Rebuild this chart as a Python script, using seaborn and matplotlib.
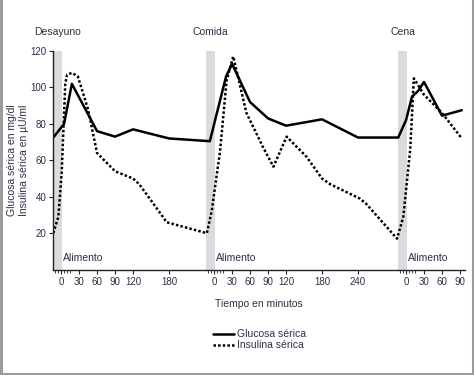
import numpy as np
import pandas as pd
import seaborn as sns
import matplotlib.pyplot as plt
from matplotlib.lines import Line2D

# meals and where each one starts on the shared time axis (minutes)
meals = ['Desayuno', 'Comida', 'Cena']
meal_start = [0, 255, 575]

# minutes shown under each meal
tick_minutes = [[0, 30, 60, 90, 120, 180],
                [0, 30, 60, 90, 120, 180, 240],
                [0, 30, 60, 90]]

# glucose (mg/dl), minutes relative to each meal
gluc_desayuno_t = [-13, 5, 18, 60, 90, 120, 180]
gluc_desayuno = [72.5, 80, 102, 76, 73, 77, 72]
gluc_comida_t = [-7, 20, 30, 60, 90, 120, 180, 240]
gluc_comida = [70.5, 106, 113, 92, 83, 79, 82.5, 72.5]
gluc_cena_t = [-13, 0, 10, 20, 30, 60, 93]
gluc_cena = [72.5, 82, 95, 98, 103, 84.5, 87.5]

# insulin (uU/ml), minutes relative to each meal
ins_desayuno_t = [-13, -4.5, 1, 7, 10, 18, 28, 45, 60, 90, 120, 130, 150, 176]
ins_desayuno = [20, 29, 53, 102, 107, 108, 106, 88, 64, 54, 50, 47, 38, 26]
ins_comida_t = [-12, -4, 10, 21, 32, 54, 82, 99, 121, 154, 180, 193, 243, 254]
ins_comida = [20, 32, 65, 104, 117, 86, 67, 56.5, 73, 62, 50, 47, 39, 36]
ins_cena_t = [-15, -4.5, 7, 13, 30, 45, 60, 93]
ins_cena = [17, 29, 66, 105, 96, 91, 86, 72]

gluc_t = [gluc_desayuno_t, gluc_comida_t, gluc_cena_t]
gluc_v = [gluc_desayuno, gluc_comida, gluc_cena]
ins_t = [ins_desayuno_t, ins_comida_t, ins_cena_t]
ins_v = [ins_desayuno, ins_comida, ins_cena]

rows = []
for name, ts, vs in [('Glucosa sérica', gluc_t, gluc_v), ('Insulina sérica', ins_t, ins_v)]:
    for start, t_loc, v_loc in zip(meal_start, ts, vs):
        for t, v in zip(t_loc, v_loc):
            rows.append({'t': start + t, 'v': v, 'serie': name})
df = pd.DataFrame(rows)

sns.set_style('ticks')
plt.rcParams['font.family'] = ['Liberation Sans', 'DejaVu Sans']
txt = '#2e2e48'

fig = plt.figure(figsize=(4.74, 3.75), dpi=100)
ax = fig.add_axes([0.112, 0.281, 0.869, 0.583])

for start in meal_start:
    ax.axvspan(start - 13, start + 2, color='#d8dcdf', lw=0, zorder=0)

sns.lineplot(data=df, x='t', y='v', style='serie',
             dashes={'Glucosa sérica': '', 'Insulina sérica': (1, 0.85)},
             color='black', lw=1.8, legend=False, sort=False, estimator=None, ax=ax)

ax.set_xlim(-13.3, 673.3)
ax.set_ylim(0, 120)
sns.despine(ax=ax)
for s in ['left', 'bottom']:
    ax.spines[s].set_linewidth(1.0)
    ax.spines[s].set_color('#222222')

ax.set_yticks([20, 40, 60, 80, 100, 120])
major, labels, minor = [], [], []
for start, mins in zip(meal_start, tick_minutes):
    major += [start + m for m in mins]
    labels += [str(m) for m in mins]
    minor += [start + m for m in range(-10, 20, 5)]
ax.set_xticks(major, labels)
ax.set_xticks(minor, minor=True)
ax.tick_params(axis='both', labelsize=7, colors='#222222', labelcolor=txt, length=3, width=0.8, pad=2)
ax.tick_params(axis='x', which='minor', length=2.5, width=0.6, colors='#222222')

ax.set_xlabel('Tiempo en minutos', fontsize=7.5, color=txt, labelpad=9)
ax.set_ylabel('Glucosa sérica en mg/dl\nInsulina sérica en µU/ml', fontsize=7.5, color=txt,
              labelpad=0.5, linespacing=1.25)

for name, start in zip(meals, meal_start):
    ax.text(start - 5.5, 130.5, name, ha='center', va='center', fontsize=7.5, color=txt, clip_on=False)
    ax.text(start + 3, 6.5, 'Alimento', ha='left', va='center', fontsize=7.5, color=txt)

handles = [Line2D([], [], color='black', lw=1.8),
           Line2D([], [], color='black', lw=1.8, linestyle=(0, (1, 0.85)))]
fig.legend(handles, ['Glucosa sérica', 'Insulina sérica'], loc='upper left',
           bbox_to_anchor=(0.449, 0.122), frameon=False, fontsize=7.5, handlelength=2,
           handletextpad=0.3, labelspacing=0.1, borderpad=0, borderaxespad=0, labelcolor=txt)

# grey frame on left, right and bottom edges
for xs, ys in [([0.003, 0.003], [0, 1]), ([0.997, 0.997], [0, 1]), ([0, 1], [0.004, 0.004])]:
    fig.add_artist(Line2D(xs, ys, transform=fig.transFigure, color='#9c9c9c', lw=2.2))

plt.savefig('out.png', dpi=100)
